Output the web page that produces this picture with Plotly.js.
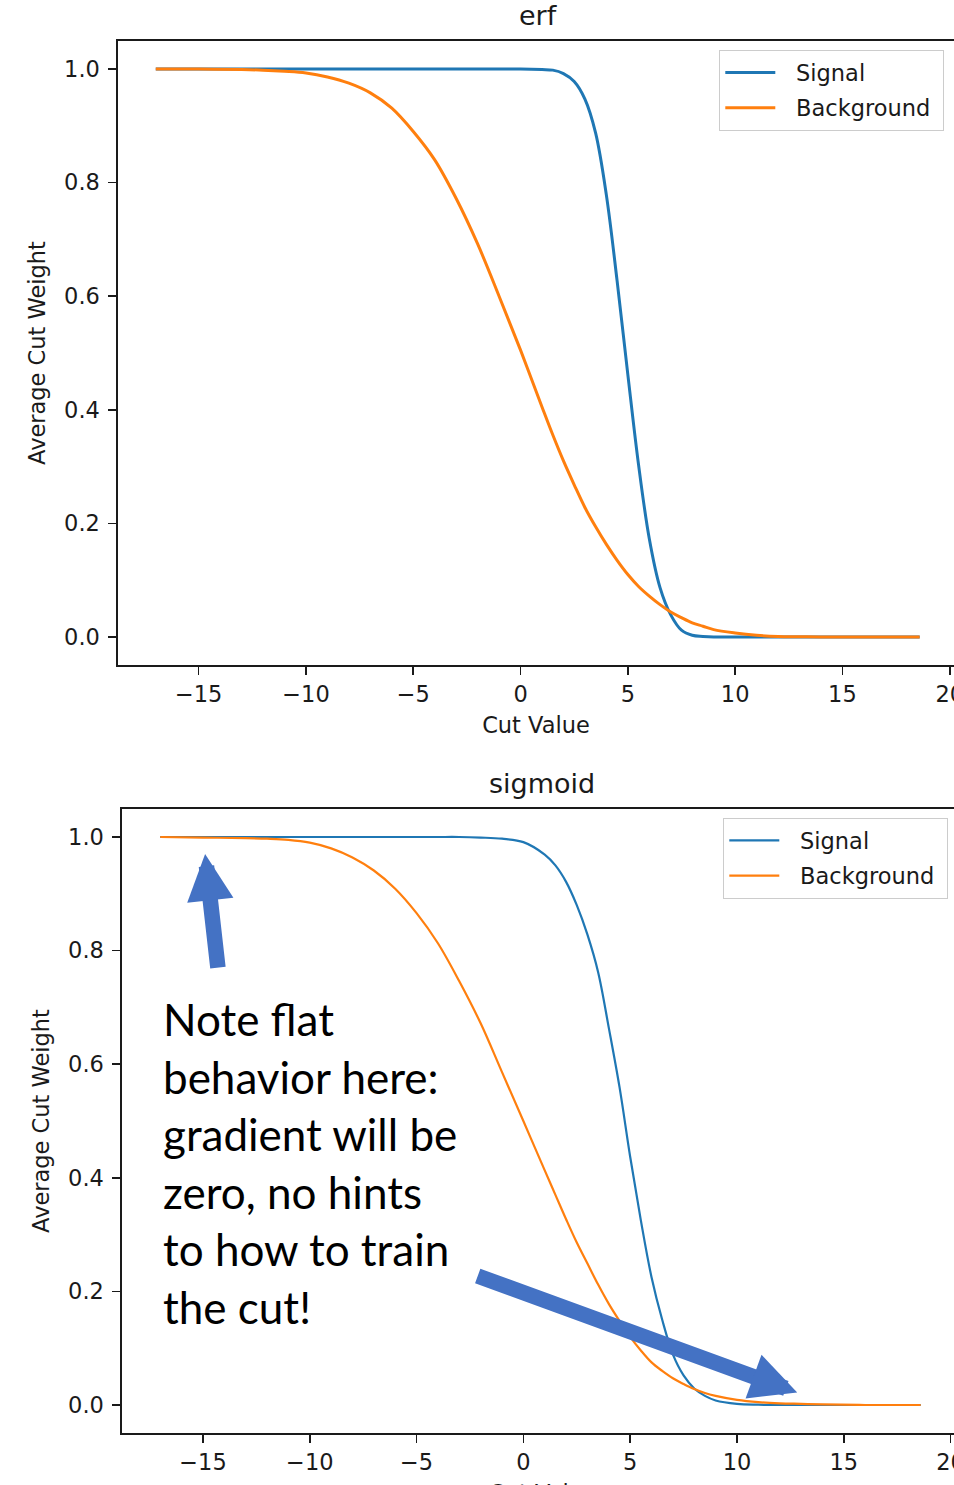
<!DOCTYPE html>
<html>
<head>
<meta charset="utf-8">
<script src="https://cdn.plot.ly/plotly-3.0.1.min.js"></script>
<style>
  html, body { margin: 0; padding: 0; background: #fff; overflow: hidden; }
  #chart { width: 954px; height: 1485px; }
</style>
</head>
<body>
<div id="chart"></div>
<script>
// ---- data ----
const cutValues = [-17, -15, -13, -12, -11, -10, -9, -8, -7, -6, -5, -4, -3, -2, -1, 0, 1, 1.5, 2, 2.5, 3, 3.5, 4, 4.5, 5, 5.5, 6, 6.5, 7, 7.5, 8, 8.5, 9, 10, 11, 12, 13, 14, 16, 18.6];

// erf panel
const erfSignal = [1, 1, 1, 1, 1, 1, 1, 1, 1, 1, 1, 1, 1, 1, 1, 1, 0.999, 0.998, 0.992, 0.978, 0.947, 0.887, 0.778, 0.627, 0.462, 0.303, 0.173, 0.087, 0.039, 0.012, 0.003, 0.001, 0, 0, 0, 0, 0, 0, 0, 0];
const erfBackground = [1, 1, 0.999, 0.998, 0.996, 0.993, 0.986, 0.975, 0.958, 0.931, 0.890, 0.840, 0.772, 0.692, 0.600, 0.505, 0.405, 0.356, 0.310, 0.268, 0.228, 0.194, 0.163, 0.135, 0.110, 0.089, 0.072, 0.057, 0.044, 0.034, 0.025, 0.019, 0.013, 0.007, 0.003, 0.001, 0.0005, 0, 0, 0];

// sigmoid panel
const sigSignal = [1, 1, 1, 1, 1, 1, 1, 1, 1, 1, 1, 1, 1, 0.999, 0.997, 0.991, 0.969, 0.950, 0.921, 0.880, 0.828, 0.762, 0.664, 0.560, 0.437, 0.325, 0.225, 0.150, 0.089, 0.052, 0.029, 0.016, 0.008, 0.002, 0.0005, 0, 0, 0, 0, 0];
const sigBackground = [1, 0.999, 0.998, 0.997, 0.995, 0.990, 0.980, 0.964, 0.941, 0.909, 0.866, 0.813, 0.746, 0.672, 0.586, 0.500, 0.413, 0.370, 0.327, 0.286, 0.249, 0.212, 0.178, 0.148, 0.120, 0.096, 0.075, 0.060, 0.047, 0.037, 0.028, 0.021, 0.016, 0.009, 0.005, 0.003, 0.002, 0.001, 0, 0];

const seriesNames = ['Signal', 'Background'];
const seriesColors = ['#1f77b4', '#ff7f0e'];
const panelTitles = ['erf', 'sigmoid'];
const xAxisTitle = 'Cut Value';
const yAxisTitle = 'Average Cut Weight';
const yTickVals = [0, 0.2, 0.4, 0.6, 0.8, 1.0];
const xTickVals = [-15, -10, -5, 0, 5, 10, 15, 20];
const noteLines = ['Note flat', 'behavior here:', 'gradient will be', 'zero, no hints', 'to how to train', 'the cut!'];

// ---- layout helpers (pixel geometry of the figure) ----
const W = 954, H = 1485;
const mL = 118, mR = 0, mT = 41, mB = 52;
const pw = W - mL - mR, ph = H - mT - mB;
const px2x = p => (p - mL) / pw;
const py2y = p => (H - mB - p) / ph;

const txtColor = '#1a1a1a';
const tickFont = {family: 'DejaVu Sans', size: 22.5, color: txtColor};

function mkTrace(x, y, i, xa, ya, lg, w) {
  return {
    x: x, y: y, type: 'scatter', mode: 'lines',
    // small leading gap reproduces the spacing between the legend line and its label
    name: '\u2002\u2009' + seriesNames[i] + (i === 1 ? '\u2004' : ''),
    xaxis: xa, yaxis: ya, legend: lg,
    legendgroup: lg + i,
    line: {color: seriesColors[i], width: w, shape: 'spline', smoothing: 1},
    hoverinfo: 'skip'
  };
}

const data = [
  mkTrace(cutValues, erfSignal, 0, 'x', 'y', 'legend', 3),
  mkTrace(cutValues, erfBackground, 1, 'x', 'y', 'legend', 3),
  mkTrace(cutValues, sigSignal, 0, 'x2', 'y2', 'legend2', 2.2),
  mkTrace(cutValues, sigBackground, 1, 'x2', 'y2', 'legend2', 2.2)
];

function xAxis(domain, range, anchor, withTitle) {
  const ax = {
    domain: domain, range: range, anchor: anchor,
    tickvals: xTickVals, tickformat: 'd',
    ticks: 'outside', ticklen: 8, tickwidth: 1.6, tickcolor: txtColor,
    showline: true, linecolor: txtColor, linewidth: 1.6, mirror: true,
    showgrid: false, zeroline: false,
    tickfont: tickFont, ticklabeloverflow: 'allow'
  };
  if (withTitle) ax.title = {text: xAxisTitle, font: tickFont, standoff: 11};
  return ax;
}
function yAxis(domain, anchor) {
  return {
    domain: domain, range: [-0.0493, 1.0493], anchor: anchor,
    tickvals: yTickVals, tickformat: '.1f',
    ticks: 'outside', ticklen: 8, tickwidth: 1.6, tickcolor: txtColor,
    showline: true, linecolor: txtColor, linewidth: 1.6, mirror: false,
    showgrid: false, zeroline: false,
    tickfont: tickFont, ticklabelstandoff: 4,
    title: {text: yAxisTitle, font: tickFont, standoff: 12}
  };
}
function legendAt(xp, yp) {
  return {
    x: px2x(xp), y: py2y(yp), xanchor: 'left', yanchor: 'top',
    bgcolor: 'rgba(255,255,255,0.85)', bordercolor: '#cccccc', borderwidth: 1.3,
    font: {family: 'DejaVu Sans', size: 22.5, color: txtColor},
    itemwidth: 50, tracegroupgap: 3, traceorder: 'grouped'
  };
}

const annotations = [];
// subplot titles
annotations.push({text: panelTitles[0], xref: 'paper', yref: 'paper', x: px2x(538), y: py2y(16),
  xanchor: 'center', yanchor: 'middle', showarrow: false,
  font: {family: 'DejaVu Sans', size: 27, color: txtColor}});
annotations.push({text: panelTitles[1], xref: 'paper', yref: 'paper', x: px2x(542), y: py2y(783),
  xanchor: 'center', yanchor: 'middle', showarrow: false,
  font: {family: 'DejaVu Sans', size: 27, color: txtColor}});
// x-axis title of the lower panel (sits at the bottom edge of the figure)
annotations.push({text: xAxisTitle, xref: 'paper', yref: 'paper', x: px2x(543), y: py2y(1493),
  xanchor: 'center', yanchor: 'middle', showarrow: false, font: tickFont});
// note text
const noteY0 = 1019, noteDy = 57.6;
noteLines.forEach((t, i) => {
  annotations.push({text: t, xref: 'paper', yref: 'paper', x: px2x(161), y: py2y(noteY0 + i * noteDy),
    xanchor: 'left', yanchor: 'middle', showarrow: false,
    font: {family: 'Lato', size: 44, color: '#000000'}});
});
// arrows (tip in data coords of the sigmoid panel, tail as pixel offset)
const arrowColor = '#4472c4';
annotations.push({text: '', xref: 'x2', yref: 'y2', x: -14.9, y: 0.970, ax: 13, ay: 115,
  showarrow: true, arrowhead: 2, arrowwidth: 15.5, arrowsize: 0.6, arrowcolor: arrowColor, standoff: 0});
annotations.push({text: '', xref: 'x2', yref: 'y2', x: 12.82, y: 0.022, ax: -321, ay: -117,
  showarrow: true, arrowhead: 2, arrowwidth: 15.5, arrowsize: 0.6, arrowcolor: arrowColor, standoff: 0});

const layout = {
  width: W, height: H,
  margin: {l: mL, r: mR, t: mT, b: mB, pad: 0},
  paper_bgcolor: '#ffffff', plot_bgcolor: '#ffffff',
  font: {family: 'DejaVu Sans', color: txtColor},
  xaxis: xAxis([0, 1], [-18.76, 20.2], 'y', true),
  yaxis: yAxis([py2y(665), 1], 'x'),
  xaxis2: xAxis([px2x(122), 1], [-18.79, 20.16], 'y2', false),
  yaxis2: yAxis([0, py2y(809)], 'x2'),
  legend: legendAt(719, 50),
  legend2: legendAt(723, 818),
  showlegend: true,
  annotations: annotations
};

Plotly.newPlot('chart', data, layout, {staticPlot: true, displayModeBar: false});
</script>
</body>
</html>
